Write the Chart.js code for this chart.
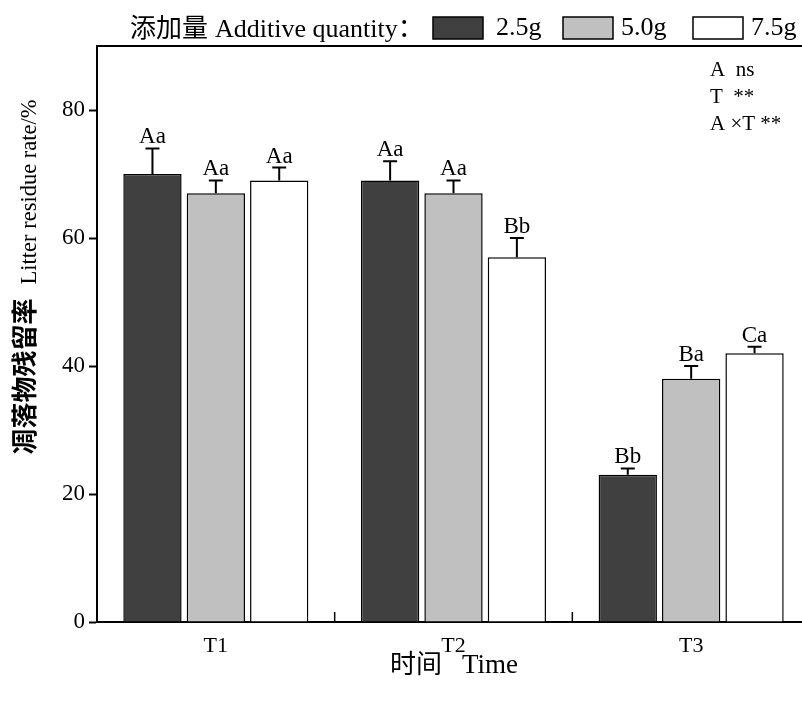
<!DOCTYPE html>
<html>
<head>
<meta charset="utf-8">
<script src="https://cdn.jsdelivr.net/npm/chart.js@4.4.1/dist/chart.umd.min.js"></script>
<style>
  html, body { margin: 0; padding: 0; overflow: hidden; background: #fff; }
  #wrap { width: 812px; height: 702px; }
</style>
</head>
<body>
<div id="wrap"><canvas id="c" width="812" height="702"></canvas></div>
<script>
const categories = ["T1", "T2", "T3"];
const doses = ["2.5g", "5.0g", "7.5g"];
const rate25 = [70, 69, 23];
const rate50 = [67, 67, 38];
const rate75 = [69, 57, 42];
const err25 = [4, 3, 1];
const err50 = [2, 2, 2];
const err75 = [2, 3, 1];
const sig25 = ["Aa", "Aa", "Bb"];
const sig50 = ["Aa", "Aa", "Ba"];
const sig75 = ["Aa", "Bb", "Ca"];
const yTicks = [0, 20, 40, 60, 80];
const stats = ["A  ns", "T  **", "A \u00d7T **"];

const SERIF = "'Liberation Serif', 'Times New Roman', serif";
const CJK = "'Noto Sans CJK SC', sans-serif";

const fills = ["#404040", "#c0c0c0", "#ffffff"];
const vals = [rate25, rate50, rate75];
const errs = [err25, err50, err75];
const sigs = [sig25, sig50, sig75];

const datasets = doses.map((d, i) => ({
  label: d,
  data: vals[i],
  errors: errs[i],
  sig: sigs[i],
  backgroundColor: fills[i],
  borderColor: "#000",
  borderWidth: 1.5,
  barPercentage: 0.92,
  categoryPercentage: 0.8
}));

// error bars, letters, frame bits, titles and legend
const extras = {
  id: "extras",
  afterDatasetsDraw(chart) {
    const ctx = chart.ctx;
    const y = chart.scales.y;
    const area = chart.chartArea;
    ctx.save();
    ctx.strokeStyle = "#000";
    ctx.fillStyle = "#000";

    chart.data.datasets.forEach((ds, di) => {
      const meta = chart.getDatasetMeta(di);
      meta.data.forEach((bar, i) => {
        const v = ds.data[i];
        const top = y.getPixelForValue(v + ds.errors[i]);
        const base = y.getPixelForValue(v);
        ctx.lineWidth = 2;
        ctx.beginPath();
        ctx.moveTo(bar.x, base);
        ctx.lineTo(bar.x, top);
        ctx.moveTo(bar.x - 7, top);
        ctx.lineTo(bar.x + 7, top);
        ctx.stroke();
        ctx.font = "23px " + SERIF;
        ctx.textAlign = "center";
        ctx.textBaseline = "alphabetic";
        ctx.fillText(ds.sig[i], bar.x, top - 5);
      });
    });

    // top frame line
    ctx.lineWidth = 2;
    ctx.beginPath();
    ctx.moveTo(area.left, area.top);
    ctx.lineTo(area.right, area.top);
    ctx.stroke();

    // inward ticks between groups
    const n = categories.length;
    const w = (area.right - area.left) / n;
    ctx.lineWidth = 1.5;
    for (let k = 1; k < n; k++) {
      const px = area.left + w * k;
      ctx.beginPath();
      ctx.moveTo(px, area.bottom);
      ctx.lineTo(px, area.bottom - 10);
      ctx.stroke();
    }

    // stats text
    ctx.font = "21px " + SERIF;
    ctx.textAlign = "left";
    ctx.textBaseline = "alphabetic";
    stats.forEach((s, i) => ctx.fillText(s, 710, 76 + i * 27));

    // y title
    ctx.save();
    ctx.translate(36, 277);
    ctx.rotate(-Math.PI / 2);
    const zh = "凋落物残留率";
    const en = "Litter residue rate/%";
    const gap = 14;
    ctx.font = "bold 26px " + CJK;
    const w1 = ctx.measureText(zh).width;
    ctx.font = "22.5px " + SERIF;
    const w2 = ctx.measureText(en).width;
    const sx = -(w1 + gap + w2) / 2;
    ctx.font = "bold 26px " + CJK;
    ctx.fillText(zh, sx, -2);
    ctx.font = "22.5px " + SERIF;
    ctx.fillText(en, sx + w1 + gap, 0);
    ctx.restore();

    // x title
    const xz = "时间";
    const xe = "Time";
    const xgap = 20;
    ctx.font = "26px " + CJK;
    const a1 = ctx.measureText(xz).width;
    ctx.font = "27px " + SERIF;
    const a2 = ctx.measureText(xe).width;
    const tx = 454 - (a1 + xgap + a2) / 2;
    ctx.font = "26px " + CJK;
    ctx.fillText(xz, tx, 673);
    ctx.font = "27px " + SERIF;
    ctx.fillText(xe, tx + a1 + xgap, 673);

    // legend
    let lx = 130;
    const ly = 37;
    ctx.font = "26px " + CJK;
    ctx.fillText("添加量", lx, ly);
    lx += ctx.measureText("添加量").width + 7;
    ctx.font = "26px " + SERIF;
    ctx.fillText("Additive quantity", lx, ly);
    lx += ctx.measureText("Additive quantity").width;
    ctx.font = "26px " + CJK;
    ctx.fillText("：", lx, ly);
    const boxX = [433, 563, 693];
    const textX = [496, 621, 751];
    chart.data.datasets.forEach((ds, i) => {
      ctx.fillStyle = ds.backgroundColor;
      ctx.fillRect(boxX[i], 17, 50, 22);
      ctx.lineWidth = 1.5;
      ctx.strokeStyle = "#000";
      ctx.strokeRect(boxX[i], 17, 50, 22);
      ctx.fillStyle = "#000";
      ctx.font = "26px " + SERIF;
      ctx.fillText(ds.label, textX[i], 35);
    });

    ctx.restore();
  }
};

new Chart(document.getElementById("c"), {
  type: "bar",
  data: { labels: categories, datasets: datasets },
  options: {
    responsive: false,
    animation: false,
    layout: { padding: { left: 0, top: 46, right: 2, bottom: 0 } },
    plugins: { legend: { display: false }, tooltip: { enabled: false } },
    scales: {
      x: {
        grid: { display: false, drawTicks: false },
        border: { color: "#000", width: 2 },
        ticks: { color: "#000", font: { family: SERIF, size: 22 }, padding: 11 },
        afterFit(axis) { axis.height = 80; }
      },
      y: {
        min: 0,
        max: 90,
        afterBuildTicks(axis) { axis.ticks = yTicks.map(v => ({ value: v })); },
        grid: { drawOnChartArea: false, drawTicks: true, tickLength: 8, color: "#000", tickWidth: 2 },
        border: { color: "#000", width: 2 },
        ticks: { color: "#000", font: { family: SERIF, size: 23 }, padding: 4 },
        afterFit(axis) { axis.width = 97; }
      }
    }
  },
  plugins: [extras]
});
</script>
</body>
</html>
